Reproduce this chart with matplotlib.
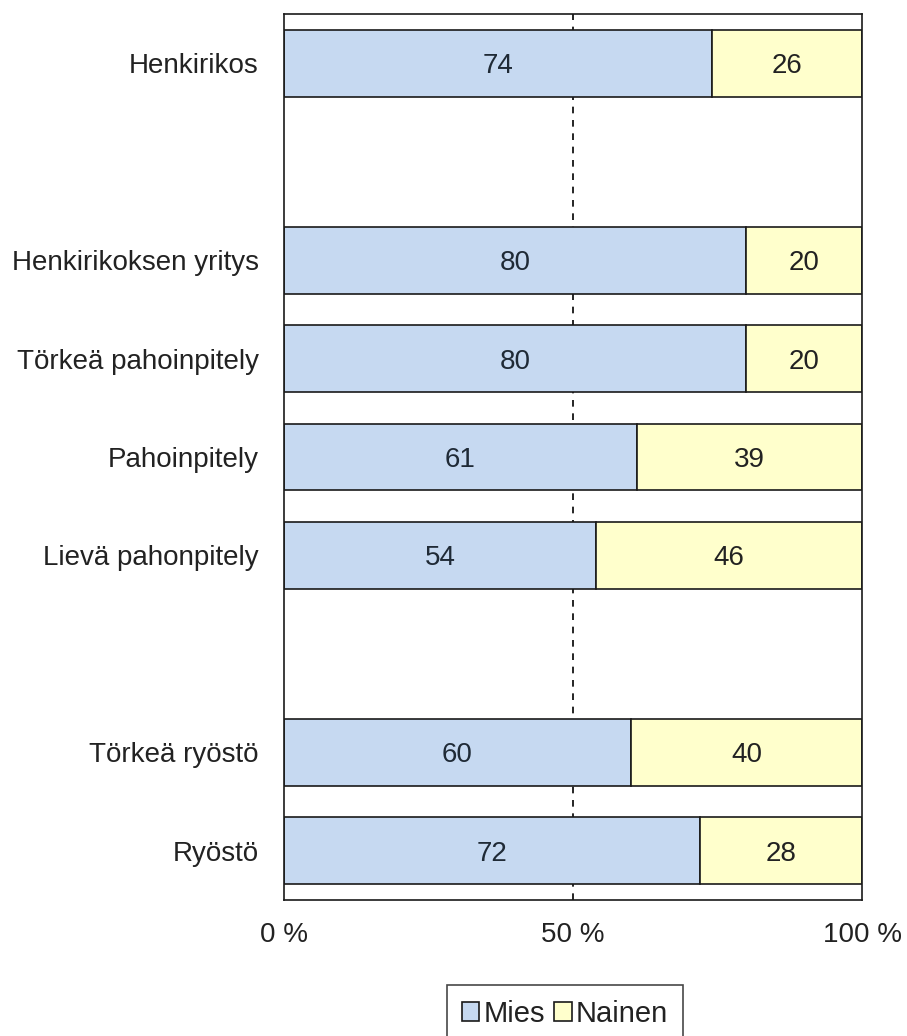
import matplotlib.pyplot as plt
import numpy as np

plt.rcParams['font.family'] = ['Liberation Sans', 'DejaVu Sans']
plt.rcParams['font.size'] = 20

# 数据：空字符串 = 图中空行
categories = ['Henkirikos', '', 'Henkirikoksen yritys', 'Törkeä pahoinpitely',
              'Pahoinpitely', 'Lievä pahonpitely', '', 'Törkeä ryöstö', 'Ryöstö']
mies = [74, np.nan, 80, 80, 61, 54, np.nan, 60, 72]
nainen = [26, np.nan, 20, 20, 39, 46, np.nan, 40, 28]
x_ticks = [0, 50, 100]
x_ticklabels = ['0 %', '50 %', '100 %']

mies = np.array(mies, dtype=float)
nainen = np.array(nainen, dtype=float)
y = np.arange(len(categories))

fig = plt.figure(figsize=(9.07, 10.36), dpi=100)
ax = fig.add_axes([0.3131, 0.1313, 0.6373, 0.8552])

bar_h = 0.68
ax.barh(y, mies, height=bar_h, color='#C6D9F1', edgecolor='#1a1a1a',
        linewidth=1.2, label='Mies', zorder=2)
ax.barh(y, nainen, left=mies, height=bar_h, color='#FFFFCC',
        edgecolor='#1a1a1a', linewidth=1.2, label='Nainen', zorder=2)

for yi, m, n in zip(y, mies, nainen):
    if np.isnan(m):
        continue
    ax.text(m / 2, yi, f'{m:.0f}', ha='center', va='center_baseline',
            color='#1f2a36', zorder=3)
    ax.text(m + n / 2, yi, f'{n:.0f}', ha='center', va='center_baseline',
            color='#222222', zorder=3)

ax.axvline(50, color='black', linestyle=(0, (4, 4)), linewidth=1.2, zorder=1)

ax.set_xlim(0, 100)
ax.set_ylim(len(categories) - 0.5, -0.5)
ax.set_yticks(y)
ax.set_yticklabels(categories, color='#222222')
ax.set_xticks(x_ticks)
ax.set_xticklabels(x_ticklabels, color='#222222')
ax.tick_params(axis='y', length=0, pad=18)
ax.tick_params(axis='x', length=0, pad=16)
for s in ax.spines.values():
    s.set_linewidth(1.2)
    s.set_color('#1a1a1a')

leg = fig.legend(loc='upper center', bbox_to_anchor=(0.623, 0.0492), ncol=2,
                 frameon=True, fancybox=False, edgecolor='#1a1a1a',
                 fontsize=21, handlelength=0.6, handleheight=0.6,
                 handletextpad=0.15, columnspacing=0.3, borderpad=0.5,
                 borderaxespad=0)
leg.get_frame().set_linewidth(1.2)
for t in leg.get_texts():
    t.set_color('#222222')

fig.savefig('out.png', dpi=100)
